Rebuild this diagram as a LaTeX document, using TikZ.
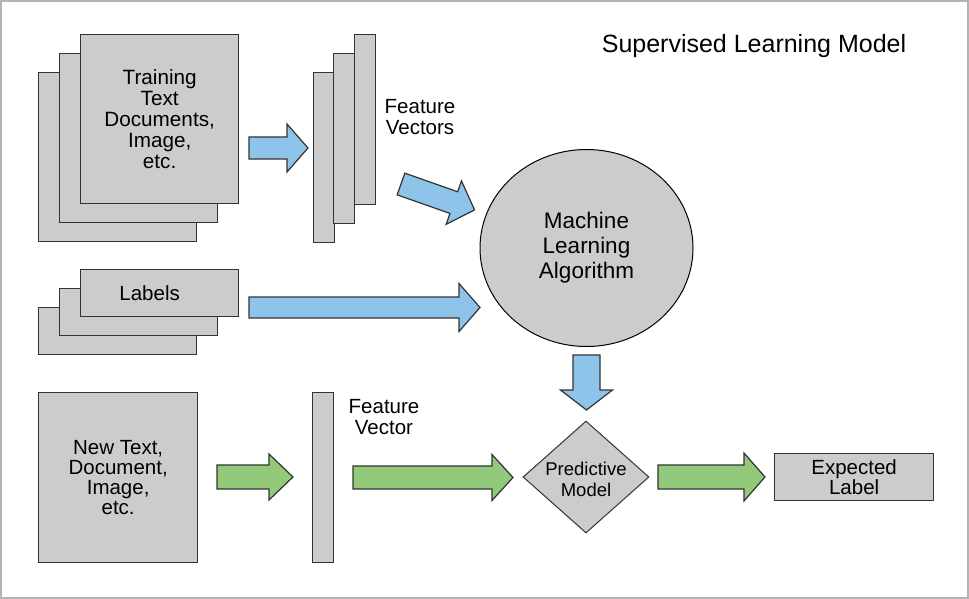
\documentclass[tikz,border=0pt]{standalone}
\usepackage{fontspec}
\setmainfont{Liberation Sans}
\usetikzlibrary{shapes.geometric}
\definecolor{boxgray}{HTML}{CCCCCC}
\definecolor{arrblue}{HTML}{8EC3EA}
\definecolor{arrgreen}{HTML}{93C97A}
\definecolor{edgecol}{HTML}{333333}
\definecolor{framecol}{HTML}{B4B4B4}
% #1 style, #2 start (tail centre), #3 angle, #4 body length, #5 total length, #6 half body, #7 half head
\newcommand\blockarr[7]{\draw[#1,shift={#2},rotate=#3] (0,-#6) -- (#4,-#6) -- (#4,-#7) -- (#5,0) -- (#4,#7) -- (#4,#6) -- (0,#6) -- cycle;}
\begin{document}
\begin{tikzpicture}[x=1pt,y=-1pt,
  box/.style={draw=edgecol, fill=boxgray, line width=1.3pt, inner sep=0pt, anchor=north west, align=center},
  txt/.style={font=\fontsize{20.5}{21}\selectfont, align=center, inner sep=0pt},
  bluearr/.style={draw=edgecol, fill=arrblue, line width=1.2pt, line join=miter},
  greenarr/.style={draw=edgecol, fill=arrgreen, line width=1.2pt, line join=miter}]
\useasboundingbox (0,0) rectangle (969,599);
\draw[framecol, line width=1.5pt] (1,1) rectangle (968,598);

% title
\node[txt, font=\fontsize{25}{28}\selectfont] (title) at (754,46) {Supervised Learning Model};

% training documents stack
\node[box, minimum width=158pt, minimum height=169pt] (doc3) at (38,72) {};
\node[box, minimum width=158pt, minimum height=169pt] (doc2) at (59,53) {};
\node[box, minimum width=158pt, minimum height=169pt, font=\fontsize{20.7}{20.8}\selectfont] (doc1) at (80,34) {Training\\Text\\Documents,\\Image,\\etc.};

% feature vectors stack
\node[box, minimum width=21pt, minimum height=170pt] (fv3) at (313,72) {};
\node[box, minimum width=21pt, minimum height=170pt] (fv2) at (333,53) {};
\node[box, minimum width=21pt, minimum height=170pt] (fv1) at (354,34) {};
\node[txt] (fvlab) at (420,117) {Feature\\Vectors};

% labels stack
\node[box, minimum width=158pt, minimum height=47pt] (lab3) at (38,307) {};
\node[box, minimum width=158pt, minimum height=47pt] (lab2) at (59,288) {};
\node[box, minimum width=158pt, minimum height=47pt, font=\fontsize{20.5}{21}\selectfont] (lab1) at (80,269) {Labels\hspace*{20pt}};

% machine learning algorithm
\node[draw=black, fill=boxgray, line width=1pt, ellipse, minimum width=213pt, minimum height=197pt, inner sep=0pt, align=center, font=\fontsize{22.5}{25}\selectfont] (mla) at (586.5,248) {Machine\\Learning\\Algorithm};

% new document
\node[box, minimum width=159pt, minimum height=170pt, font=\fontsize{20.5}{20}\selectfont] (newdoc) at (38,392) {New Text,\\Document,\\Image,\\etc.};
\node[box, minimum width=21pt, minimum height=170pt] (fvnew) at (312,392) {};
\node[txt] (fvnewlab) at (384,417.5) {Feature\\Vector};

% predictive model
\node[draw=edgecol, fill=boxgray, line width=1pt, diamond, minimum width=126pt, minimum height=112pt, inner sep=0pt,
  label={[font=\fontsize{18.5}{21}\selectfont, align=center, inner sep=0pt, yshift=-2pt]center:Predictive\\Model}] (pm) at (586,477) {};

% expected label
\node[box, minimum width=159pt, minimum height=47pt, font=\fontsize{20.5}{20}\selectfont] (exp) at (774,453) {Expected\\Label};

% block arrows
\blockarr{bluearr}{(249,148)}{0}{38}{59}{11}{24}
\blockarr{bluearr}{(401,184)}{-19.4}{56}{78}{11.5}{23}
\blockarr{bluearr}{(249,307.5)}{0}{210}{231}{10.5}{24}
\blockarr{bluearr}{(586.5,355)}{-90}{35}{55}{13.5}{26}
\blockarr{greenarr}{(217,477)}{0}{52}{76}{12}{23}
\blockarr{greenarr}{(353,477.5)}{0}{139}{160}{11.5}{23}
\blockarr{greenarr}{(658,477)}{0}{86}{107}{12}{24}
\end{tikzpicture}
\end{document}
